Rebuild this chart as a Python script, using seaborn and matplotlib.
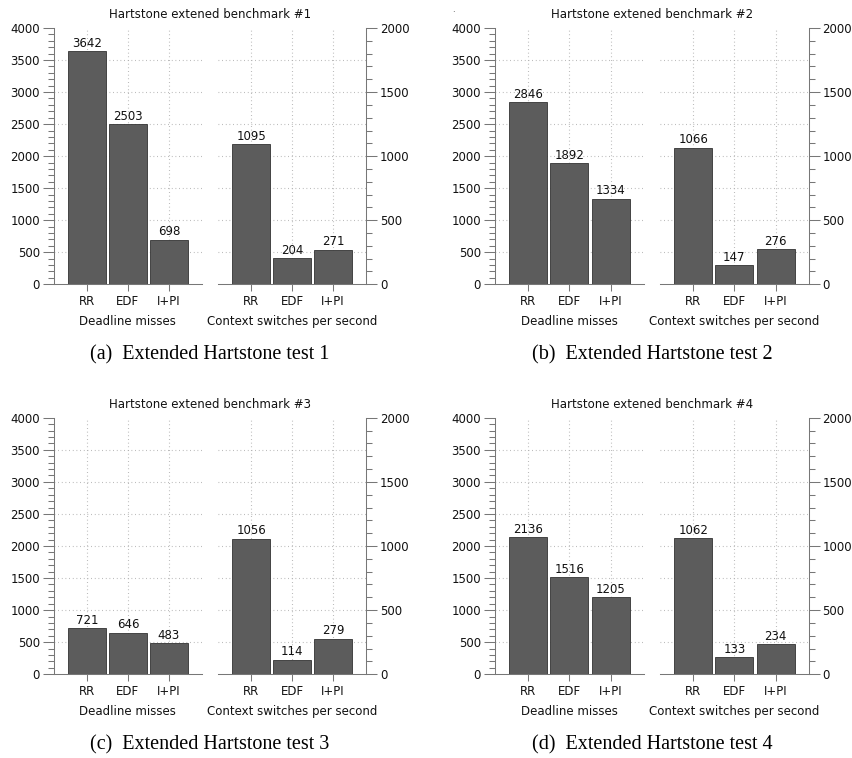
import numpy as np
import pandas as pd
import seaborn as sns
import matplotlib.pyplot as plt
from matplotlib.ticker import MultipleLocator

# scheduler names on the x axis of every group
schedulers = ['RR', 'EDF', 'I+PI']

# left group (left axis, 0-4000) for tests 1..4
deadline_misses = [
    [3642, 2503, 698],
    [2846, 1892, 1334],
    [721, 646, 483],
    [2136, 1516, 1205],
]

# right group (right axis, 0-2000) for tests 1..4
context_switches = [
    [1095, 204, 271],
    [1066, 147, 276],
    [1056, 114, 279],
    [1062, 133, 234],
]

titles = ['Hartstone extened benchmark #1', 'Hartstone extened benchmark #2',
          'Hartstone extened benchmark #3', 'Hartstone extened benchmark #4']
captions = ['(a)  Extended Hartstone test 1', '(b)  Extended Hartstone test 2',
            '(c)  Extended Hartstone test 3', '(d)  Extended Hartstone test 4']
group_labels = ['Deadline misses', 'Context switches per second']

sns.set_theme(style='white')
plt.rcParams['font.family'] = ['DejaVu Sans']

W, H = 852, 758
fig = plt.figure(figsize=(W / 100, H / 100), dpi=100)

# panel frames in pixels: left spine, right spine, top, bottom
frames = [(54, 366, 28, 284.3), (495, 808.7, 28, 284.3),
          (54, 366, 417.7, 674.3), (495, 808.7, 417.7, 674.3)]

fs = 8.5
bar_color = '#5c5c5c'
spine_color = '#777777'
grid_kw = dict(color='#aaaaaa', linewidth=0.8, linestyle=(0, (0.7, 2.6)), zorder=1)

for i in range(4):
    x0, x1, top, bot = frames[i]
    w = x1 - x0
    h = bot - top
    aw = w * 3.6 / 7.6
    ax_l = fig.add_axes([x0 / W, 1 - bot / H, aw / W, h / H])
    ax_r = fig.add_axes([(x0 + w * 4.0 / 7.6) / W, 1 - bot / H, aw / W, h / H])

    groups = [(ax_l, deadline_misses[i], 4000, group_labels[0], 'left'),
              (ax_r, context_switches[i], 2000, group_labels[1], 'right')]
    for ax, vals, ymax, label, side in groups:
        df = pd.DataFrame({'scheduler': schedulers, 'value': vals})
        sns.barplot(data=df, x='scheduler', y='value', ax=ax, color=bar_color,
                    saturation=1, width=0.92, edgecolor='#333333', linewidth=0.6,
                    zorder=3)
        ax.bar_label(ax.containers[0], padding=1, fontsize=fs, color='#111111')
        ax.set_xlim(-0.8, 2.8)
        ax.set_ylim(0, ymax)
        ax.set_xlabel('')
        ax.set_ylabel('')
        ax.text(0.5, -37.5 / h, label, transform=ax.transAxes, ha='center',
                va='center', fontsize=fs, color='#111111')

        for s in ax.spines.values():
            s.set_visible(False)
        for s in ['bottom', side]:
            ax.spines[s].set_visible(True)
            ax.spines[s].set_color(spine_color)
            ax.spines[s].set_linewidth(0.75)

        ax.yaxis.set_major_locator(MultipleLocator(500))
        ax.yaxis.set_minor_locator(MultipleLocator(100))
        if side == 'right':
            ax.yaxis.tick_right()
        else:
            ax.yaxis.tick_left()
        ax.tick_params(axis='y', which='major', direction='out', length=8, width=0.75,
                       color=spine_color, labelsize=fs, labelcolor='#111111', pad=2)
        ax.tick_params(axis='y', which='minor', direction='out', length=4, width=0.75,
                       color=spine_color)
        ax.tick_params(axis='x', which='major', direction='out', length=5, width=0.75,
                       color=spine_color, labelsize=fs, labelcolor='#111111', pad=3,
                       bottom=True)

        # dotted grid, horizontal at every 500 of the left scale
        for gy in np.arange(500, 4000, 500) * ymax / 4000:
            ax.axhline(gy, **grid_kw)
        for gx in range(len(schedulers)):
            ax.axvline(gx, **grid_kw)

    cx = (x0 + x1) / 2
    fig.text(cx / W, 1 - (top - 13) / H, titles[i], ha='center', va='center',
             fontsize=fs, color='#111111')
    fig.text(cx / W, 1 - (bot + 71) / H, captions[i], ha='center', va='center',
             fontsize=14.5, family='Liberation Serif', color='black')

fig.text(453 / W, 1 - 9 / H, '.', ha='center', va='center', fontsize=6, color='#333333')

fig.savefig('out.png', dpi=100)
